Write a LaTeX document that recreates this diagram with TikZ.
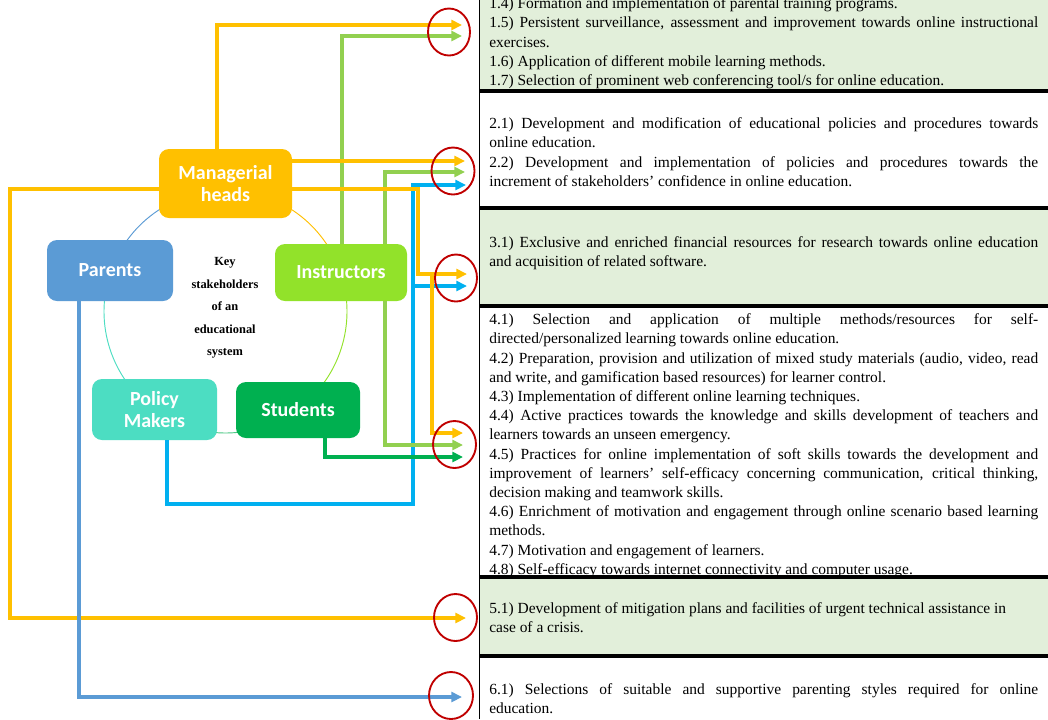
\documentclass[tikz,border=0pt]{standalone}
\usepackage{fontspec}
\setmainfont{Liberation Serif}
\newfontfamily\nodefont{Carlito}
\usetikzlibrary{arrows.meta,calc}
\setlength{\parindent}{0pt}
\definecolor{orng}{HTML}{FFC000}
\definecolor{parb}{HTML}{5B9BD5}
\definecolor{insf}{HTML}{92E22A}
\definecolor{igrn}{HTML}{92D050}
\definecolor{polf}{HTML}{4CDDC2}
\definecolor{sgrn}{HTML}{00B050}
\definecolor{pblue}{HTML}{00B0F0}
\definecolor{redc}{HTML}{C00000}
\definecolor{boxg}{HTML}{E2EFDA}
\tikzset{
  stake/.style={rounded corners=7.5pt, text=white, align=center, inner sep=0pt,
    font=\nodefont\bfseries\fontsize{15}{16.5}\selectfont},
  con/.style={line width=2.3pt, -{Triangle[length=8pt,width=7.5pt]}},
  txt/.style={anchor=north west, inner sep=0pt, text width=411.75pt, align=justify,
    font=\fontsize{11.6}{14.4}\selectfont},
  ring/.style={line width=0.7pt},
  redmark/.style={draw=redc, line width=1.4pt},
  sepline/.style={line width=3pt}
}
\begin{document}
\begin{tikzpicture}[x=0.75pt,y=-0.75pt]
\useasboundingbox (0,0) rectangle (1048,719);
\clip (0,0) rectangle (1048,719);
\fill[white] (0,0) rectangle (1048,719);
% table
\fill[boxg] (479,-5) rectangle (1048,91);
\fill[boxg] (479,208) rectangle (1048,306);
\fill[boxg] (479,577) rectangle (1048,656);
\draw[sepline] (479,91) -- (1048,91);
\draw[sepline] (479,208) -- (1048,208);
\draw[sepline] (479,306) -- (1048,306);
\draw[sepline] (479,577) -- (1048,577);
\draw[sepline] (479,656) -- (1048,656);
\draw[line width=0.6pt] (479,-5) -- (479,719);
\node[txt] (b1) at (489,-5) {\strut 1.4) Formation and implementation of parental training programs.\par
1.5) Persistent surveillance, assessment and improvement towards online instructional\linebreak exercises.\par
1.6) Application of different mobile learning methods.\par
1.7) Selection of prominent web conferencing tool/s for online education.};
\node[txt] (b2) at (489,115) {\strut 2.1) Development and modification of educational policies and procedures towards\linebreak online education.\par
2.2) Development and implementation of policies and procedures towards the\linebreak increment of stakeholders’ confidence in online education.};
\node[txt] (b3) at (489,234) {\strut 3.1) Exclusive and enriched financial resources for research towards online education\linebreak and acquisition of related software.};
\node[txt] (b4) at (489,311) {\strut 4.1) Selection and application of multiple methods/resources for self-\linebreak directed/personalized learning towards online education.\par
4.2) Preparation, provision and utilization of mixed study materials (audio, video, read\linebreak and write, and gamification based resources) for learner control.\par
4.3) Implementation of different online learning techniques.\par
4.4) Active practices towards the knowledge and skills development of teachers and\linebreak learners towards an unseen emergency.\par
4.5) Practices for online implementation of soft skills towards the development and\linebreak improvement of learners’ self-efficacy concerning communication, critical thinking,\linebreak decision making and teamwork skills.\par
4.6) Enrichment of motivation and engagement through online scenario based learning\linebreak methods.\par
4.7) Motivation and engagement of learners.\par
4.8) Self-efficacy towards internet connectivity and computer usage.};
\node[txt] (b5) at (489,600) {\strut 5.1) Development of mitigation plans and facilities of urgent technical assistance in\newline case of a crisis.};
\node[txt] (b6) at (489,681) {\strut 6.1) Selections of suitable and supportive parenting styles required for online\linebreak education.};
% ring
\coordinate (cc) at (225.5,311.5);
\draw[ring,orng] ($(cc)+(-90:121.5)$) arc[start angle=-90, end angle=-18, radius=121.5];
\draw[ring,insf] ($(cc)+(-18:121.5)$) arc[start angle=-18, end angle=54, radius=121.5];
\draw[ring,sgrn!70] ($(cc)+(54:121.5)$) arc[start angle=54, end angle=126, radius=121.5];
\draw[ring,polf] ($(cc)+(126:121.5)$) arc[start angle=126, end angle=198, radius=121.5];
\draw[ring,parb] ($(cc)+(198:121.5)$) arc[start angle=198, end angle=270, radius=121.5];
% stakeholders
\node[stake, fill=orng, minimum width=99.75pt, minimum height=51.75pt] (mh) at (225.5,183.5) {Managerial\\heads};
\node[stake, fill=parb, minimum width=94.5pt, minimum height=45.75pt] (par) at (110,270.5) {Parents};
\node[stake, fill=insf, minimum width=99pt, minimum height=42.75pt] (ins) at (341,272.5) {Instructors};
\node[stake, fill=polf, minimum width=93.75pt, minimum height=45.75pt] (pm) at (154.5,409.5) {Policy\\Makers};
\node[stake, fill=sgrn, minimum width=93pt, minimum height=42pt] (st) at (298,410) {Students};
\node[font=\bfseries\fontsize{9.3}{16.9}\selectfont, align=center, inner sep=0pt] (key) at (225,308) {Key\\stakeholders\\of an\\educational\\system};
% tips
\coordinate (t1a) at (462,25);
\coordinate (t1b) at (462,36);
\coordinate (t2a) at (465,161);
\coordinate (t2b) at (465,172);
\coordinate (t2c) at (466,185);
\coordinate (t3a) at (467,274);
\coordinate (t3b) at (467,286);
\coordinate (t4a) at (463,433);
\coordinate (t4b) at (463,445);
\coordinate (t4c) at (463,457);
\coordinate (t5) at (466,618);
\coordinate (t6) at (462,697);
\coordinate (bc) at (413,504);
\coordinate (oc) at (418,274);
\coordinate (ob) at (432,274);
\coordinate (ol) at (10,618);
% connectors
\draw[con,orng] ($(mh.north)+(-8.5,0)$) |- (t1a);
\draw[con,igrn] ($(ins.north)+(1,0)$) |- (t1b);
\draw[con,orng] (t2a -| mh.east) -- (t2a);
\draw[con,igrn] ($(ins.north)+(44,0)$) |- (t2b);
\draw[con,pblue] ($(pm.south)+(12.5,0)$) |- (bc) |- (t2c);
\draw[con,pblue] (t3b -| bc) -- (t3b);
\draw[con,orng] ($(mh.east)+(0,5.5)$) -| (oc) -- (t3a);
\draw[con,orng] (ob) |- (t4a);
\draw[con,orng] ($(mh.west)+(0,5.5)$) -| (ol) -- (t5);
\draw[con,igrn] ($(ins.south)+(44,0)$) |- (t4b);
\draw[con,sgrn] ($(st.south)+(27,0)$) |- (t4c);
\draw[con,parb] ($(par.south)+(-31,0)$) |- (t6);
% red marks
\draw[redmark] (449,32) ellipse [x radius=21, y radius=23.5];
\draw[redmark] (453,171) ellipse [x radius=21.5, y radius=23.5];
\draw[redmark] (456,278) ellipse [x radius=21, y radius=23.5];
\draw[redmark] (454.5,444.5) ellipse [x radius=21.5, y radius=23.5];
\draw[redmark] (455.5,617.5) ellipse [x radius=21.5, y radius=23.5];
\draw[redmark] (451,695.5) ellipse [x radius=22, y radius=23.5];
\end{tikzpicture}
\end{document}
